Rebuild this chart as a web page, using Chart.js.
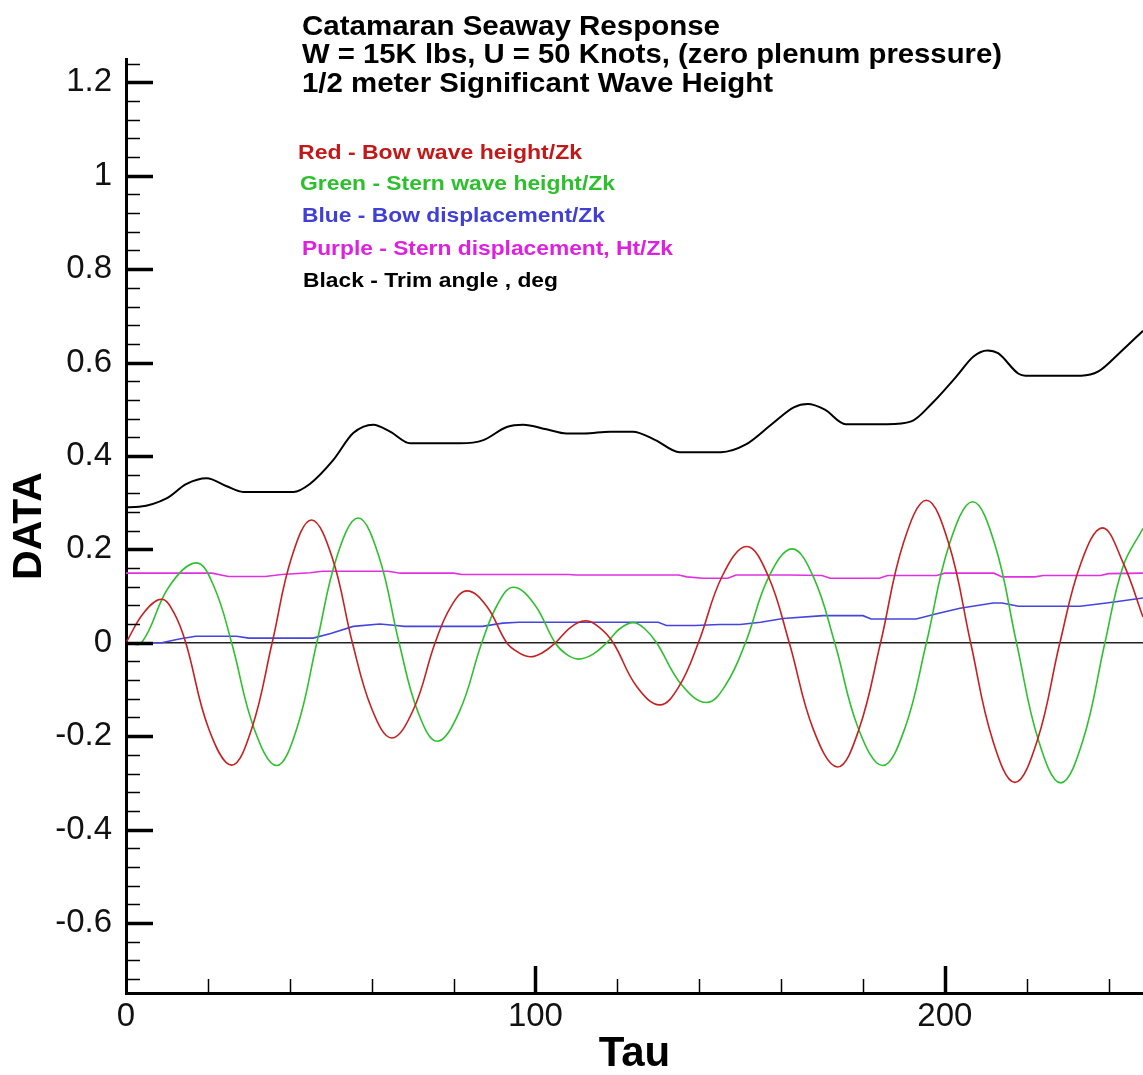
<!DOCTYPE html>
<html>
<head>
<meta charset="utf-8">
<script src="https://cdn.jsdelivr.net/npm/chart.js@4.4.0/dist/chart.umd.min.js"></script>
<style>
html,body{margin:0;padding:0;background:#fff;overflow:hidden}
canvas{display:block}
</style>
</head>
<body>
<canvas id="c" width="1143" height="1075"></canvas>
<script>
// ---- Data ----
const redTau = [0,4.4,8.7,11.6,14.6,20.2,25.8,30.7,35.7,40.5,45.3,50.3,55.3,60.1,64.9,70.2,75.5,79.4,83.3,88.1,93,95.9,98.8,101.8,104.9,108.6,112.3,115.6,119,124.7,130.4,135.1,139.8,145.7,151.6,156.8,162,167.9,173.8,179,184.3,189.9,195.5,200.9,206.3,211.7,217.1,222.6,228.1,233.3,238.5,243.5,248.4];
const redVal = [0,0.065,0.093,0.066,0,-0.184,-0.262,-0.184,0,0.184,0.263,0.184,0,-0.143,-0.204,-0.143,0,0.078,0.111,0.078,0,-0.021,-0.030,-0.021,0,0.033,0.047,0.033,0,-0.093,-0.133,-0.093,0,0.144,0.206,0.144,0,-0.186,-0.266,-0.186,0,0.214,0.305,0.214,0,-0.209,-0.299,-0.209,0,0.172,0.246,0.172,0.055];

const greenTau = [0,3.8,10.5,17.2,21.5,25.8,31.3,36.8,41.7,46.6,51.6,56.7,61.7,66.7,71.3,76,81.4,86.9,90.8,94.6,99.7,104.8,107.6,110.5,114,117.4,120.6,123.9,126.7,129.6,135.7,141.8,146.5,151.3,157,162.7,167.9,173.1,178.9,184.8,190.2,195.5,201.1,206.8,212.2,217.5,222.9,228.3,233.7,239.1,243.5,248.4];
const greenVal = [0,0,0.12,0.171,0.12,0,-0.184,-0.263,-0.184,0,0.187,0.267,0.187,0,-0.148,-0.211,-0.148,0,0.083,0.119,0.083,0,-0.025,-0.035,-0.025,0,0.030,0.043,0.030,0,-0.09,-0.128,-0.09,0,0.141,0.201,0.141,0,-0.184,-0.263,-0.184,0,0.211,0.302,0.211,0,-0.21,-0.300,-0.21,0,0.163,0.245];

const blueTau = [0,8.7,13,17,27,30,45.7,50,55.5,62,66,68,87,92,96,130,132,139,145,150,155,160.5,170.3,180,182,193,198,203.7,211.8,214,218,233,239.5,248.4];
const blueVal = [0,0,0.008,0.014,0.014,0.010,0.010,0.020,0.035,0.040,0.037,0.035,0.035,0.042,0.044,0.044,0.037,0.037,0.039,0.039,0.044,0.052,0.058,0.058,0.051,0.051,0.062,0.074,0.085,0.085,0.078,0.078,0.085,0.096];

const purpleTau = [0,21,25,34,38,45,48,64,67,80,82,108,110,135,137,141,147,149,162,170,172,184,186,198,200,212,214,222,224,238,240,248.4];
const purpleVal = [0.149,0.149,0.142,0.142,0.146,0.150,0.153,0.153,0.149,0.149,0.146,0.146,0.145,0.145,0.141,0.138,0.138,0.145,0.145,0.144,0.138,0.138,0.144,0.144,0.149,0.149,0.141,0.141,0.144,0.144,0.148,0.149];

const blackTau = [0,3.2,9.9,14.8,19.7,24.6,28.6,40.9,44.9,50.6,55.5,60.4,64.5,69.4,81.6,87.3,93,97,102.7,107.6,112,118.2,123.8,129.3,135.2,145.3,151.3,158,163.1,166.5,170.7,175.8,185.9,191.8,196.9,202.8,207,210.4,213,218,219.7,233.3,237.5,242.6,248.4];
const blackVal = [0.290,0.291,0.309,0.340,0.352,0.335,0.323,0.323,0.340,0.391,0.449,0.467,0.452,0.427,0.427,0.434,0.462,0.467,0.457,0.448,0.448,0.452,0.452,0.434,0.408,0.408,0.424,0.470,0.504,0.511,0.499,0.468,0.468,0.474,0.513,0.570,0.613,0.626,0.620,0.576,0.572,0.572,0.581,0.620,0.668];

const xTickLabels = [0, 100, 200];
const yTickLabels = [-0.6, -0.4, -0.2, 0, 0.2, 0.4, 0.6, 0.8, 1, 1.2];

const titleLines = [
  'Catamaran Seaway Response',
  'W = 15K lbs, U = 50 Knots, (zero plenum pressure)',
  '1/2 meter Significant Wave Height'
];
const legendLabels = [
  'Red - Bow wave height/Zk',
  'Green - Stern wave height/Zk',
  'Blue - Bow displacement/Zk',
  'Purple - Stern displacement, Ht/Zk',
  'Black - Trim angle , deg'
];
const legendColors = ['#c41818', '#2cc02c', '#4040d8', '#e020e0', '#000000'];
const lineColors = ['#c62020', '#2fc02f', '#4545dd', '#e030e0', '#000000'];

// ---- helpers ----
const FONT = '"Liberation Sans", Arial, Helvetica, sans-serif';
Chart.defaults.font.family = FONT;

function pts(t, v) { return t.map((x, i) => ({ x: x, y: v[i] })); }

function drawFitted(ctx, text, x, baseline, size, width, color) {
  ctx.save();
  ctx.font = 'bold ' + size + 'px ' + FONT;
  const w = ctx.measureText(text).width;
  ctx.translate(x, baseline);
  ctx.scale(width / w, 1);
  ctx.fillStyle = color;
  ctx.textAlign = 'left';
  ctx.textBaseline = 'alphabetic';
  ctx.fillText(text, 0, 0);
  ctx.restore();
}

const tecplotDecor = {
  id: 'tecplotDecor',
  afterDraw(chart) {
    const { ctx, chartArea: a, scales } = chart;
    const xs = scales.x, ys = scales.y;
    ctx.save();
    ctx.strokeStyle = '#000';
    ctx.lineCap = 'butt';
    // y-axis ticks (inward)
    for (let i = -18; i <= 31; i++) {
      const v = i * 0.04;
      const major = i % 5 === 0;
      const py = Math.round(ys.getPixelForValue(v)) + 0.5;
      ctx.lineWidth = major ? 3.5 : 1.5;
      ctx.beginPath();
      ctx.moveTo(a.left, py);
      ctx.lineTo(a.left + (major ? 27 : 14), py);
      ctx.stroke();
    }
    // x-axis ticks (inward)
    for (let i = 1; i <= 12; i++) {
      const v = i * 20;
      const major = i % 5 === 0;
      const px = Math.round(xs.getPixelForValue(v)) + 0.5;
      ctx.lineWidth = major ? 3.5 : 1.5;
      ctx.beginPath();
      ctx.moveTo(px, a.bottom);
      ctx.lineTo(px, a.bottom - (major ? 27 : 14));
      ctx.stroke();
    }
    ctx.restore();

    // Title text block
    const titleBase = [35, 63, 92];
    const titleW = [418, 700, 471];
    titleLines.forEach((t, i) => drawFitted(ctx, t, 302, titleBase[i], 28, titleW[i], '#000'));
    // Legend text block
    const legBase = [159, 190, 222, 255, 287];
    const legX = [298, 300, 302, 302, 303];
    const legW = [284, 315, 303, 371, 255];
    legendLabels.forEach((t, i) => drawFitted(ctx, t, legX[i], legBase[i], 21, legW[i], legendColors[i]));
  }
};

const names = ['Bow wave height/Zk', 'Stern wave height/Zk', 'Bow displacement/Zk', 'Stern displacement, Ht/Zk', 'Trim angle, deg'];
// [tau, values, curve style]
const series = [
  [redTau, redVal, 'spline'],
  [greenTau, greenVal, 'spline'],
  [blueTau, blueVal, 'linear'],
  [purpleTau, purpleVal, 'linear'],
  [blackTau, blackVal, 'monotone']
];

new Chart(document.getElementById('c'), {
  type: 'line',
  data: {
    datasets: series.map((s, i) => ({
      label: names[i],
      data: pts(s[0], s[1]),
      borderColor: lineColors[i],
      borderWidth: i === 4 ? 2 : 1.6,
      pointRadius: 0,
      fill: false,
      tension: s[2] === 'linear' ? 0 : 0.4,
      cubicInterpolationMode: s[2] === 'monotone' ? 'monotone' : 'default'
    }))
  },
  options: {
    responsive: false,
    animation: false,
    devicePixelRatio: 1,
    layout: { padding: { top: 59, right: 0, bottom: 0, left: 0 } },
    plugins: { legend: { display: false }, tooltip: { enabled: false }, title: { display: false } },
    scales: {
      x: {
        type: 'linear',
        min: 0,
        max: 248.4,
        afterBuildTicks: s => { s.ticks = xTickLabels.map(v => ({ value: v })); },
        afterFit: s => { s.height = 82; },
        ticks: { font: { size: 33, lineHeight: 1.2 }, color: '#111', padding: 4, maxRotation: 0, autoSkip: false, callback: v => String(v) },
        grid: { display: true, drawOnChartArea: false, drawTicks: false },
        border: { display: true, color: '#000', width: 3 },
        title: { display: true, text: 'Tau', color: '#000', font: { size: 42, weight: 'bold', lineHeight: 1 }, padding: { top: 0, bottom: 0 } }
      },
      y: {
        type: 'linear',
        min: -0.75,
        max: 1.25,
        afterBuildTicks: s => { s.ticks = yTickLabels.map(v => ({ value: v })); },
        afterFit: s => { s.width = 126; },
        ticks: { font: { size: 33 }, color: '#111', padding: 14, autoSkip: false, callback: v => String(Math.round(v * 10) / 10) },
        grid: {
          display: true,
          drawTicks: false,
          lineWidth: 1.5,
          color: c => (c.tick && c.tick.value === 0) ? '#222' : 'rgba(0,0,0,0)'
        },
        border: { display: true, color: '#000', width: 3 },
        title: { display: true, text: 'DATA', color: '#000', font: { size: 41, weight: 'bold', lineHeight: 1 }, padding: { top: 9, bottom: 0 } }
      }
    }
  },
  plugins: [tecplotDecor]
});
</script>
</body>
</html>
